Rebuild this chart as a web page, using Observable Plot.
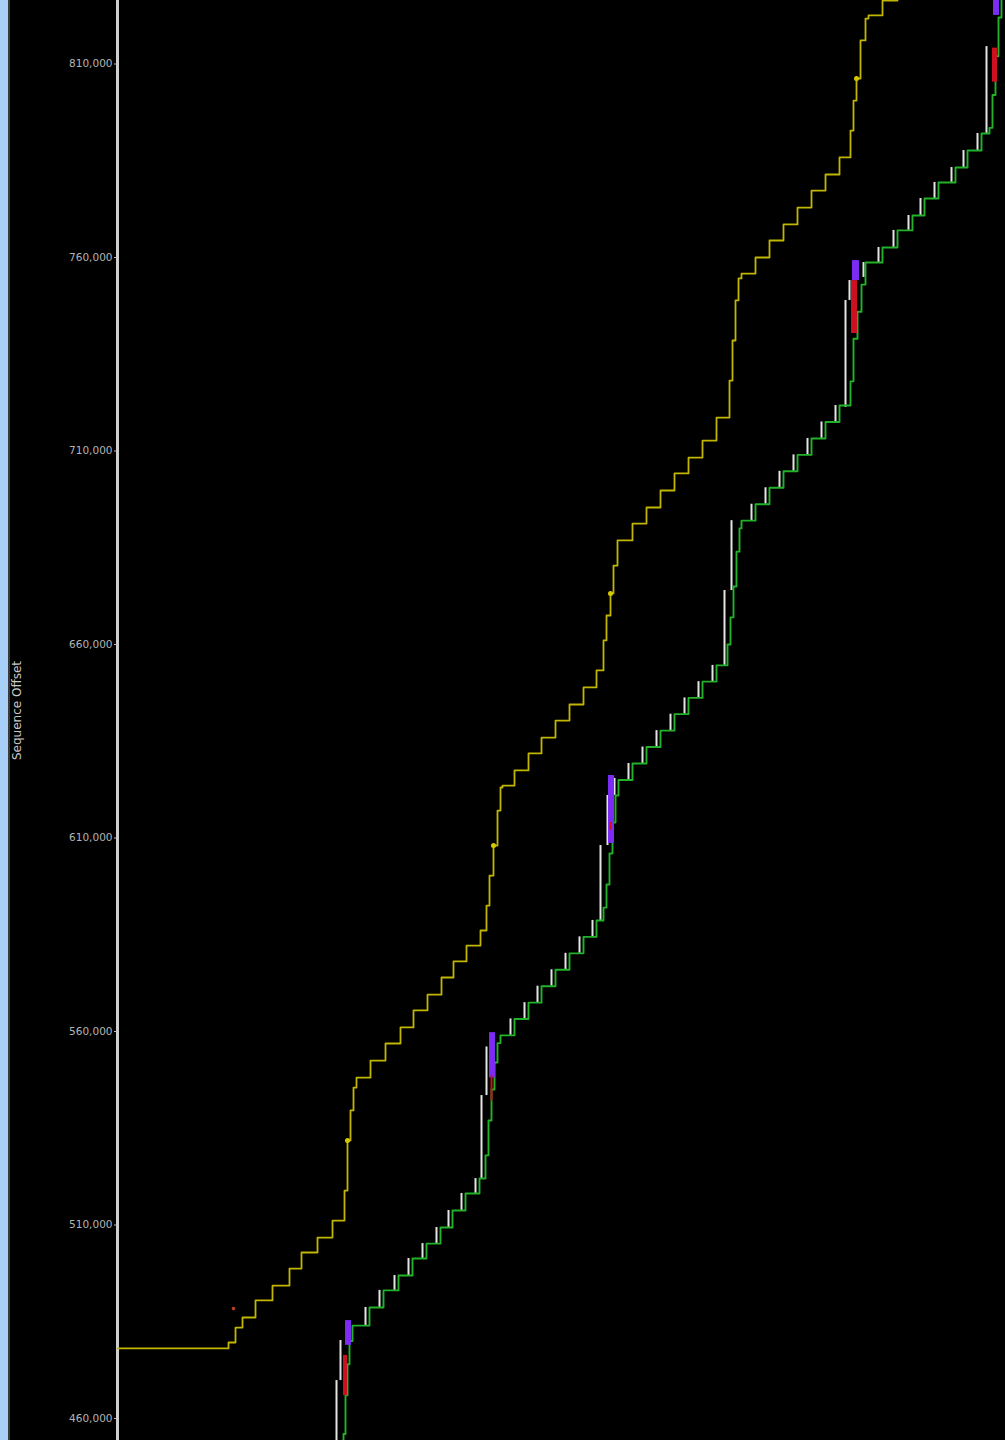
<!DOCTYPE html>
<html>
<head>
<meta charset="utf-8">
<script src="https://cdn.jsdelivr.net/npm/d3@7"></script>
<script src="https://cdn.jsdelivr.net/npm/@observablehq/plot@0.6"></script>
<style>
  html, body { margin: 0; padding: 0; background: #000; overflow: hidden; }
  #wrap { display: flex; height: 1440px; width: 1005px; overflow: hidden; }
  #strip { width: 8px; background: #a7cff7; }
  #edge { width: 2px; background: #3a3a3a; }
  #chart { width: 995px; height: 1440px; }
</style>
</head>
<body>
<div id="wrap"><div id="strip"></div><div id="edge"></div><div id="chart"></div></div>
<script>
// Tick values on the sequence axis
const yTicks = [460000, 510000, 560000, 610000, 660000, 710000, 760000, 810000];

// Acknowledged sequence (green step line): time (s), ack number
const ackT = [2.00, 2.19, 2.26, 2.28, 2.30, 2.32, 2.35,
  2.52, 2.66, 2.81, 2.95, 3.09, 3.23, 3.35, 3.48, 3.62,
  3.68, 3.71, 3.74, 3.77, 3.80, 3.83,
  3.97, 4.11, 4.24, 4.38, 4.52, 4.66, 4.79,
  4.86, 4.89, 4.92, 4.95, 4.98, 5.01,
  5.15, 5.29, 5.43, 5.57, 5.71, 5.85, 5.99,
  6.10, 6.13, 6.16, 6.19, 6.22, 6.24,
  6.38, 6.52, 6.66, 6.80, 6.94, 7.08, 7.22,
  7.33, 7.36, 7.40, 7.44, 7.48,
  7.65, 7.80, 7.95, 8.07, 8.21, 8.38, 8.50, 8.64,
  8.72, 8.75, 8.78, 8.81, 8.84, 8.88];
const ackV = [446900, 450000, 456000, 466000, 474000, 480000, 484000,
  488700, 493100, 496950, 501350, 505200, 509350, 513750, 518150, 522000,
  528000, 537000, 545000, 552000, 557000, 559000,
  563250, 567450, 571700, 575950, 580200, 584450, 588700,
  592000, 598000, 606000, 614000, 621000, 625000,
  629250, 633500, 637750, 642000, 646200, 650400, 654600,
  660000, 667000, 675000, 684000, 690000, 692000,
  696250, 700500, 704750, 709000, 713250, 717500, 721750,
  728000, 739000, 746000, 753000, 758700,
  762600, 767000, 770850, 775250, 779400, 783250, 787650, 792050,
  793500, 802000, 812000, 822000, 830000, 832000];

// Receive window edge (yellow step line): time (s), sequence
const winT = [0.00, 1.11, 1.18, 1.25, 1.38, 1.55, 1.72, 1.84, 2.00, 2.15,
  2.27, 2.30, 2.33, 2.36, 2.39,
  2.53, 2.68, 2.83, 2.96, 3.10, 3.24, 3.36, 3.49, 3.63,
  3.69, 3.72, 3.76, 3.80, 3.83, 3.85,
  3.97, 4.11, 4.24, 4.38, 4.52, 4.66, 4.79,
  4.86, 4.89, 4.93, 4.96, 5.00,
  5.15, 5.29, 5.43, 5.57, 5.71, 5.85, 5.99,
  6.12, 6.15, 6.18, 6.21, 6.24,
  6.38, 6.52, 6.66, 6.80, 6.94, 7.08, 7.22,
  7.33, 7.36, 7.39, 7.43, 7.48, 7.51,
  7.65, 7.80, 8.00];
const winV = [478100, 479640, 483500, 486100, 490500, 494350, 498750, 502900, 506750, 511150,
  518900, 531850, 539600, 545500, 548100,
  552500, 556900, 561050, 565450, 569550, 573950, 578100, 582200, 586100,
  592550, 600300, 608050, 617100, 623050, 623550,
  627450, 631850, 635950, 640350, 644500, 648900, 653300,
  661050, 667500, 673200, 680400, 686900,
  691250, 695400, 699800, 704200, 708300, 712700, 718650,
  728200, 738550, 748900, 754600, 755850,
  760000, 764400, 768550, 772900, 777300, 781450, 785850,
  792800, 800550, 806250, 816100, 821750, 822550,
  826400, 830550, 830550];

// Data segments (white bars): time, start seq, end seq
const segT = [2.19, 2.23, 2.48, 2.62, 2.77, 2.91, 3.05, 3.19, 3.31, 3.44, 3.58,
  3.64, 3.69,
  3.93, 4.07, 4.20, 4.34, 4.48, 4.62, 4.75,
  4.83, 4.90, 4.97,
  5.11, 5.25, 5.39, 5.53, 5.67, 5.81, 5.95,
  6.07, 6.14,
  6.34, 6.48, 6.62, 6.76, 6.90, 7.04, 7.18,
  7.28, 7.32, 7.46,
  7.61, 7.76, 7.91, 8.03, 8.17, 8.34, 8.46, 8.60,
  8.69];
const segLo = [450000, 469800, 484000, 488700, 493100, 496950, 501350, 505200, 509350, 513750, 518150,
  522000, 543450,
  559000, 563250, 567450, 571700, 575950, 580200, 584450,
  588700, 608050, 621000,
  625000, 629250, 633500, 637750, 642000, 646200, 650400,
  654600, 673950,
  692000, 696250, 700500, 704750, 709000, 713250, 717500,
  721250, 748900, 754850,
  758700, 762600, 767000, 770850, 775250, 779400, 783250, 787650,
  792050];
const segHi = [469800, 480150, 488700, 493100, 496950, 501350, 505200, 509350, 513750, 518150, 522000,
  543450, 556000,
  563250, 567450, 571700, 575950, 580200, 584450, 588700,
  608050, 621000, 625400,
  629250, 633500, 637750, 642000, 646200, 650400, 654600,
  673950, 692000,
  696250, 700500, 704750, 709000, 713250, 717500, 721750,
  748900, 754050, 758700,
  762600, 767000, 770850, 775250, 779400, 783250, 787650, 792050,
  814500];

// SACK blocks (purple)
const sackT1 = [2.28, 3.72, 4.91, 7.35, 8.76];
const sackT2 = [2.34, 3.78, 4.97, 7.42, 8.82];
const sackLo = [478900, 548000, 608600, 754050, 822550];
const sackHi = [485300, 559700, 626150, 759200, 832000];

// Retransmissions (red)
const retxT1 = [2.26, 3.735, 4.925, 7.34, 8.75];
const retxT2 = [2.30, 3.755, 4.945, 7.40, 8.80];
const retxLo = [465900, 542000, 612000, 740350, 805300];
const retxHi = [476300, 548500, 614000, 754050, 814100];

// Window update markers (yellow dots) and an early marker
const wupT = [2.30, 3.76, 4.93, 7.39];
const wupV = [531850, 608050, 673200, 806250];
const markT = [1.16];
const markV = [488400];

const ack = ackT.map((t, i) => ({t, v: ackV[i]}));
const win = winT.map((t, i) => ({t, v: winV[i]}));
const segs = segT.map((t, i) => ({t, lo: segLo[i], hi: segHi[i]}));
const sacks = sackT1.map((t1, i) => ({t1, t2: sackT2[i], lo: sackLo[i], hi: sackHi[i]}));
const retx = retxT1.map((t1, i) => ({t1, t2: retxT2[i], lo: retxLo[i], hi: retxHi[i]}));
const wups = wupT.map((t, i) => ({t, v: wupV[i]}));
const marks = markT.map((t, i) => ({t, v: markV[i]}));

const chart = Plot.plot({
  width: 995,
  height: 1440,
  marginLeft: 107,
  marginRight: 0,
  marginTop: 0,
  marginBottom: 0,
  style: {background: "transparent", color: "#b4b4b4", fontFamily: "DejaVu Sans, sans-serif", fontSize: "10.5px", overflow: "hidden"},
  x: {domain: [0, 8.88], axis: null},
  y: {domain: [454315, 826411], axis: null},
  marks: [
    Plot.ruleX([0], {stroke: "#cfcfcf", strokeWidth: 3}),
    Plot.axisY(yTicks, {tickFormat: d3.format(","), tickSize: 3, tickPadding: 2, label: null, stroke: "#bdbdbd", fill: "#b4b4b4"}),
    Plot.text(["Sequence Offset"], {frameAnchor: "left", textAnchor: "middle", rotate: -90, dx: -100, dy: -10, fontSize: 12, fill: "#c8c8c8"}),
    Plot.line(win, {x: "t", y: "v", curve: "step-after", stroke: "#c2b600", strokeWidth: 1.8}),
    Plot.ruleX(segs, {x: "t", y1: "lo", y2: "hi", stroke: "#e4e4e4", strokeWidth: 2}),
    Plot.line(ack, {x: "t", y: "v", curve: "step-after", stroke: "#22b22a", strokeWidth: 1.9}),
    Plot.rect(sacks, {x1: "t1", x2: "t2", y1: "lo", y2: "hi", fill: "#7a2cf2"}),
    Plot.rect(retx, {x1: "t1", x2: "t2", y1: "lo", y2: "hi", fill: "#cc1020"}),
    Plot.dot(wups, {x: "t", y: "v", r: 2.5, fill: "#d4c800"}),
    Plot.dot(marks, {x: "t", y: "v", r: 1.8, fill: "#b8401a"})
  ]
});
document.getElementById("chart").appendChild(chart);
</script>
</body>
</html>
